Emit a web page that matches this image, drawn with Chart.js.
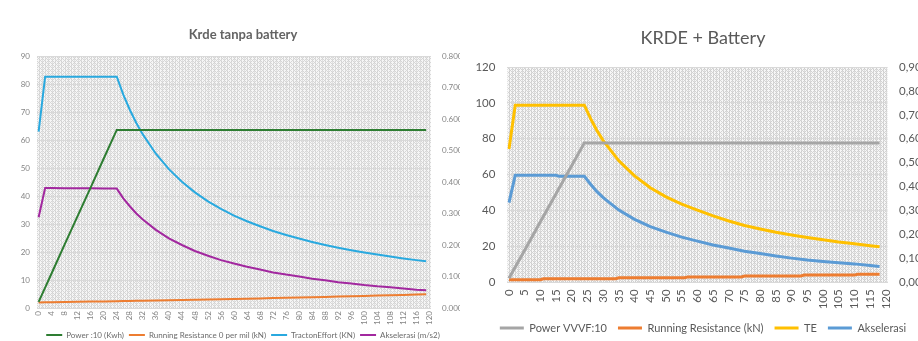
<!DOCTYPE html>
<html>
<head>
<meta charset="utf-8">
<script src="https://cdn.jsdelivr.net/npm/chart.js@4.4.1/dist/chart.umd.min.js"></script>
<style>
  html, body { margin: 0; padding: 0; background: #fff; width: 918px; height: 341px; overflow: hidden; position: relative; }
  #wrapA { position: absolute; left: 0; top: 0; width: 486px; height: 350px; }
  #wrapB { position: absolute; left: 460px; top: 0; width: 486px; height: 350px; background: #fff; }
</style>
</head>
<body>
<div id="wrapA"><canvas id="chartA" width="486" height="350"></canvas></div>
<div id="wrapB"><canvas id="chartB" width="486" height="350"></canvas></div>
<script>
// ---- KRDE without battery (speed in km/h) ----
const leftSpeed = [0, 2, 4, 8, 12, 16, 20, 24, 26, 28, 30, 32, 36, 40, 44, 48, 52, 56, 60, 64, 68, 72, 76, 80, 84, 88, 92, 96, 100, 104, 108, 112, 116, 119];
const leftPower = [2.2, 7.3, 12.4, 22.7, 32.9, 43.1, 53.4, 63.6, 63.6, 63.6, 63.6, 63.6, 63.6, 63.6, 63.6, 63.6, 63.6, 63.6, 63.6, 63.6, 63.6, 63.6, 63.6, 63.6, 63.6, 63.6, 63.6, 63.6, 63.6, 63.6, 63.6, 63.6, 63.6, 63.6];
const leftResistance = [2.00, 2.03, 2.07, 2.14, 2.21, 2.29, 2.36, 2.44, 2.48, 2.52, 2.56, 2.60, 2.69, 2.78, 2.86, 2.95, 3.05, 3.14, 3.24, 3.33, 3.43, 3.53, 3.64, 3.74, 3.85, 3.96, 4.07, 4.19, 4.30, 4.42, 4.54, 4.66, 4.78, 4.87];
const leftTractive = [63.0, 82.6, 82.6, 82.6, 82.6, 82.6, 82.6, 82.6, 76.2, 70.8, 66.1, 62.0, 55.1, 49.6, 45.1, 41.3, 38.1, 35.4, 33.0, 31.0, 29.2, 27.5, 26.1, 24.8, 23.6, 22.5, 21.5, 20.6, 19.8, 19.1, 18.4, 17.7, 17.1, 16.7];
const leftAccel = [0.288, 0.381, 0.381, 0.380, 0.380, 0.380, 0.379, 0.379, 0.348, 0.323, 0.300, 0.281, 0.248, 0.221, 0.200, 0.181, 0.166, 0.152, 0.141, 0.131, 0.122, 0.113, 0.106, 0.100, 0.093, 0.088, 0.082, 0.078, 0.073, 0.069, 0.066, 0.062, 0.058, 0.056];
const leftTickLabels = [0, 4, 8, 12, 16, 20, 24, 28, 32, 36, 40, 44, 48, 52, 56, 60, 64, 68, 72, 76, 80, 84, 88, 92, 96, 100, 104, 108, 112, 116, 120];

// ---- KRDE + battery ----
const rightSpeed = [0, 2, 5, 10, 15, 16, 20, 24, 26, 28, 30, 35, 40, 45, 50, 55, 60, 65, 70, 75, 80, 85, 90, 95, 100, 105, 110, 115, 118];
const rightPower = [2.2, 8.5, 17.9, 33.7, 49.4, 52.5, 65.1, 77.7, 77.7, 77.7, 77.7, 77.7, 77.7, 77.7, 77.7, 77.7, 77.7, 77.7, 77.7, 77.7, 77.7, 77.7, 77.7, 77.7, 77.7, 77.7, 77.7, 77.7, 77.7];
const rightTractive = [74.3, 98.7, 98.7, 98.7, 98.7, 98.7, 98.7, 98.7, 91.2, 84.6, 79.0, 67.7, 59.3, 52.7, 47.6, 43.6, 40.2, 37.0, 34.2, 31.7, 29.7, 27.9, 26.4, 25.0, 23.7, 22.5, 21.5, 20.4, 19.8];
const rightAccel = [0.333, 0.447, 0.447, 0.447, 0.447, 0.443, 0.443, 0.443, 0.410, 0.379, 0.354, 0.302, 0.263, 0.233, 0.210, 0.189, 0.172, 0.156, 0.143, 0.130, 0.120, 0.110, 0.101, 0.093, 0.087, 0.082, 0.077, 0.070, 0.066];
const rightResSpeed = [0, 10, 11, 34, 35, 56, 57, 74, 75, 93, 94, 110, 111, 118];
const rightResistance = [1.4, 1.4, 2.0, 2.0, 2.5, 2.5, 3.0, 3.0, 3.5, 3.5, 4.0, 4.0, 4.5, 4.5];
const rightTickLabels = [0, 5, 10, 15, 20, 25, 30, 35, 40, 45, 50, 55, 60, 65, 70, 75, 80, 85, 90, 95, 100, 105, 110, 115, 120];

const pts = (xs, ys) => xs.map((x, i) => ({ x: x, y: ys[i] }));

// small diagonal cross-hatch tile used as the plot-area fill
function hatchTile(light, dark) {
  const c = document.createElement('canvas');
  c.width = 4; c.height = 4;
  const g = c.getContext('2d');
  g.fillStyle = light; g.fillRect(0, 0, 4, 4);
  g.fillStyle = dark;
  [[0, 0], [1, 1], [2, 2], [3, 3], [1, 3], [3, 1]].forEach(p => g.fillRect(p[0], p[1], 1, 1));
  return c;
}

const plotTexture = {
  id: 'plotTexture',
  beforeDraw(chart, args, opts) {
    const { ctx, chartArea: a } = chart;
    const x = chart.scales.x;
    ctx.save();
    ctx.fillStyle = ctx.createPattern(hatchTile(opts.light, opts.dark), 'repeat');
    ctx.fillRect(a.left, a.top, a.right - a.left, a.bottom - a.top);
    ctx.strokeStyle = opts.lineColor;
    ctx.lineWidth = 1;
    ctx.beginPath();
    for (let v = Math.ceil(x.min); v <= x.max; v++) {
      const px = Math.round(x.getPixelForValue(v)) + 0.5;
      ctx.moveTo(px, a.top);
      ctx.lineTo(px, a.bottom);
    }
    ctx.stroke();
    ctx.restore();
  }
};

function flatLegend(chart) {
  const items = Chart.defaults.plugins.legend.labels.generateLabels(chart);
  items.forEach(it => { it.fillStyle = it.strokeStyle; it.lineWidth = 0; });
  return items;
}

const line = (label, data, color, width, axis) => ({
  label: label, data: data, borderColor: color, backgroundColor: color,
  borderWidth: width, pointRadius: 0, tension: 0, yAxisID: axis
});

// ---------- chart A ----------
const fontA = 'Lato';
const tickA = '#858585';
new Chart(document.getElementById('chartA'), {
  type: 'line',
  data: {
    datasets: [
      line('Power :10 (Kwh)', pts(leftSpeed, leftPower), '#2E7D32', 2, 'y'),
      line('Running Resistance 0 per mil (kN)', pts(leftSpeed, leftResistance), '#ED7D31', 2, 'y'),
      line('TractonEffort (KN)', pts(leftSpeed, leftTractive), '#29A9DF', 2, 'y'),
      line('Akselerasi (m/s2)', pts(leftSpeed, leftAccel), '#A2289F', 2, 'y1')
    ]
  },
  options: {
    responsive: false,
    animation: false,
    layout: { padding: { top: 0, bottom: 1, left: 0, right: 0 } },
    plugins: {
      plotTexture: { light: '#f6f6f6', dark: '#d6d6d6', lineColor: 'rgba(205,205,205,0.55)' },
      title: {
        display: true, text: 'Krde tanpa battery', color: '#636363',
        font: { family: fontA, size: 13, weight: 'bold' },
        padding: { top: 27.2, bottom: 13.2 }
      },
      legend: {
        position: 'bottom',
        labels: {
          boxWidth: 16, boxHeight: 2, padding: 5, color: '#6b6b6b',
          font: { family: fontA, size: 8 },
          generateLabels: flatLegend
        }
      },
      tooltip: { enabled: false }
    },
    scales: {
      x: {
        type: 'linear', min: -0.5, max: 120.5,
        afterBuildTicks: s => { s.ticks = leftTickLabels.map(v => ({ value: v })); },
        afterFit: s => { s.height = 18; },
        ticks: { autoSkip: false, minRotation: 90, maxRotation: 90, padding: 3, color: tickA, font: { family: fontA, size: 8 } },
        grid: { display: false, drawTicks: false, tickLength: 0 },
        border: { display: false }
      },
      y: {
        min: 0, max: 90,
        afterFit: s => { s.width = 37; },
        ticks: { stepSize: 10, padding: 7, color: tickA, font: { family: fontA, size: 8 } },
        grid: { color: '#d9d9d9', drawTicks: false },
        border: { display: false }
      },
      y1: {
        position: 'right', min: 0, max: 0.8,
        afterFit: s => { s.width = 55; },
        ticks: { stepSize: 0.1, padding: 11, color: tickA, font: { family: fontA, size: 8 }, callback: v => Number(v).toFixed(3) },
        grid: { display: false, drawTicks: false },
        border: { display: false }
      }
    }
  },
  plugins: [plotTexture]
});

// ---------- chart B ----------
const fontB = 'Lato';
const tickB = '#595959';
new Chart(document.getElementById('chartB'), {
  type: 'line',
  data: {
    datasets: [
      line('Power VVVF:10', pts(rightSpeed, rightPower), '#A5A5A5', 3, 'y'),
      line('Running Resistance (kN)', pts(rightResSpeed, rightResistance), '#ED7D31', 3, 'y'),
      line('TE', pts(rightSpeed, rightTractive), '#FFC000', 3, 'y'),
      line('Akselerasi', pts(rightSpeed, rightAccel), '#5B9BD5', 3, 'y1')
    ]
  },
  options: {
    responsive: false,
    animation: false,
    layout: { padding: { top: 0, bottom: 6.5, left: 0, right: 0 } },
    plugins: {
      plotTexture: { light: '#f7f7f7', dark: '#d3d3d3', lineColor: 'rgba(200,200,200,0.6)' },
      title: {
        display: true, text: 'KRDE + Battery', color: '#595959',
        font: { family: fontB, size: 18, weight: 'normal' },
        padding: { top: 27.2, bottom: 18.2 }
      },
      legend: {
        position: 'bottom',
        labels: {
          boxWidth: 24, boxHeight: 3, padding: 11, color: '#595959',
          font: { family: fontB, size: 11 },
          generateLabels: flatLegend
        }
      },
      tooltip: { enabled: false }
    },
    scales: {
      x: {
        type: 'linear', min: -0.5, max: 120.5,
        afterBuildTicks: s => { s.ticks = rightTickLabels.map(v => ({ value: v })); },
        afterFit: s => { s.height = 29.2; },
        ticks: { autoSkip: false, minRotation: 90, maxRotation: 90, padding: 7, color: tickB, font: { family: fontB, size: 11.5 } },
        grid: { display: false, drawTicks: false, tickLength: 0 },
        border: { display: true, color: '#d9d9d9' }
      },
      y: {
        min: 0, max: 120,
        afterFit: s => { s.width = 47.4; },
        ticks: { stepSize: 20, padding: 12, color: tickB, font: { family: fontB, size: 11.5 } },
        grid: { color: '#d9d9d9', drawTicks: false },
        border: { display: false }
      },
      y1: {
        position: 'right', min: 0, max: 0.9,
        afterFit: s => { s.width = 58.6; },
        ticks: { stepSize: 0.1, padding: 11.6, color: tickB, font: { family: fontB, size: 11.5 }, callback: v => Number(v).toFixed(2).replace('.', ',') },
        grid: { display: false, drawTicks: false },
        border: { display: false }
      }
    }
  },
  plugins: [plotTexture]
});
</script>
</body>
</html>
